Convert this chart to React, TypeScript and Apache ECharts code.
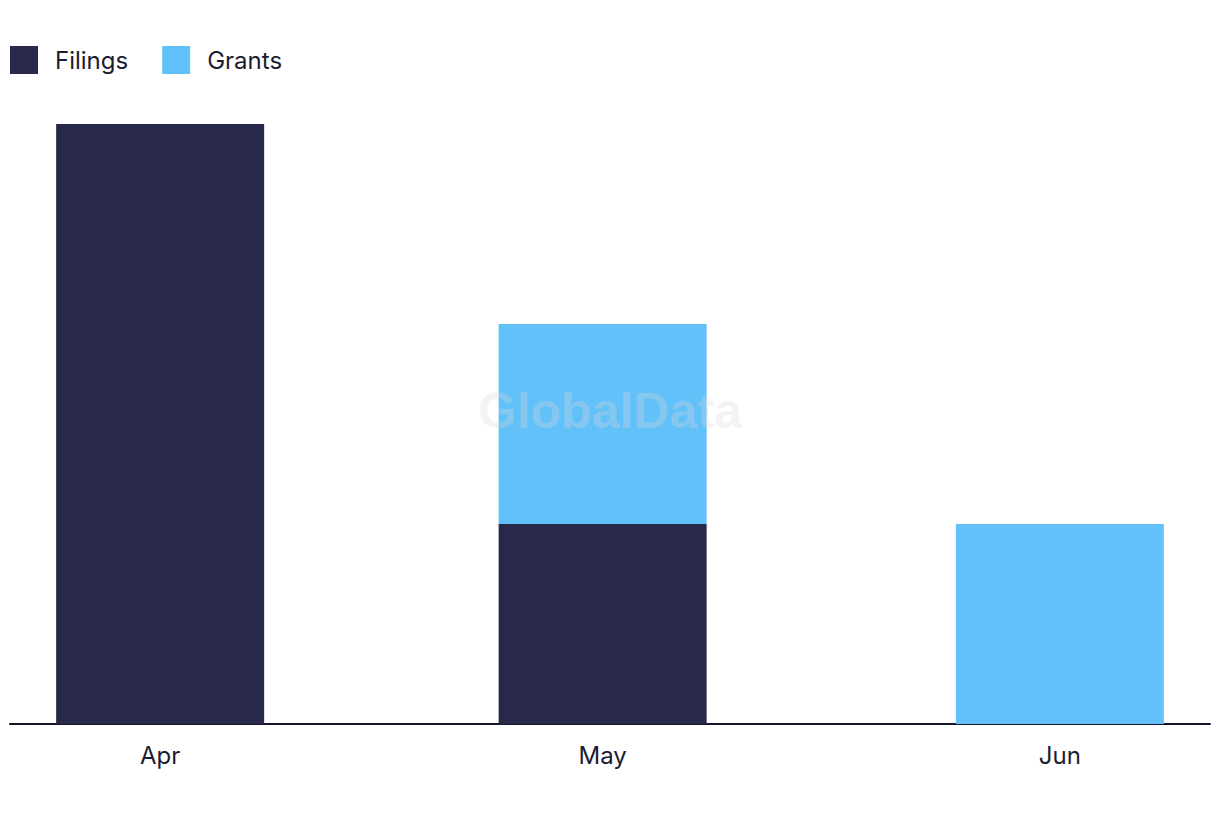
import React, { useEffect, useRef } from "react";
import * as echarts from "echarts";

// Days since 1 Apr for each month start (time-proportional positions)
const monthNames = ["Apr", "May", "Jun"];
const monthDays = [0, 30, 61];
const filings = [3, 1, 0];
const grants = [0, 1, 1];

export default function App() {
  const ref = useRef<HTMLDivElement>(null);
  useEffect(() => {
    document.body.style.margin = "0";
    const chart = echarts.init(ref.current!, null, { renderer: "svg" });
    const font = "Inter, 'Noto Sans', sans-serif";
    chart.setOption({
      animation: false,
      color: ["#27284a", "#62c1f8"],
      legend: {
        left: 10,
        top: 46,
        padding: 0,
        itemWidth: 28,
        itemHeight: 28,
        itemGap: 34,
        icon: "rect",
        textStyle: {
          fontFamily: font,
          fontSize: 24,
          color: "#1c1c30",
          padding: [0, 0, 5, 12],
        },
        data: ["Filings", "Grants"],
      },
      graphic: [
        {
          type: "text",
          left: "center",
          top: 386,
          z: 100,
          style: {
            text: "GlobalData",
            font: "bold 50px 'Liberation Sans', Arial, sans-serif",
            fill: "rgba(215,215,215,0.3)",
          },
        },
      ],
      grid: { left: 10, right: 10, top: 124, bottom: 98 },
      xAxis: {
        type: "value",
        min: -10.18,
        max: 71.18,
        splitLine: { show: false },
        axisLine: { show: true, lineStyle: { color: "#161628", width: 2 } },
        axisTick: { show: false },
        axisLabel: {
          customValues: monthDays,
          formatter: (v: number) => monthNames[monthDays.indexOf(v)] ?? "",
          fontFamily: font,
          fontSize: 24,
          color: "#1c1c30",
          margin: 19,
        },
      },
      yAxis: {
        type: "value",
        min: 0,
        max: 3,
        show: false,
        splitLine: { show: false },
      },
      series: [
        {
          name: "Filings",
          type: "bar",
          stack: "total",
          barWidth: 208,
          encode: { x: 1, y: 0 },
          data: monthDays.map((d, i) => [filings[i], d]),
        },
        {
          name: "Grants",
          type: "bar",
          stack: "total",
          barWidth: 208,
          encode: { x: 1, y: 0 },
          data: monthDays.map((d, i) => [grants[i], d]),
        },
      ],
    });
    return () => chart.dispose();
  }, []);
  return <div ref={ref} style={{ width: 1220, height: 822 }} />;
}
